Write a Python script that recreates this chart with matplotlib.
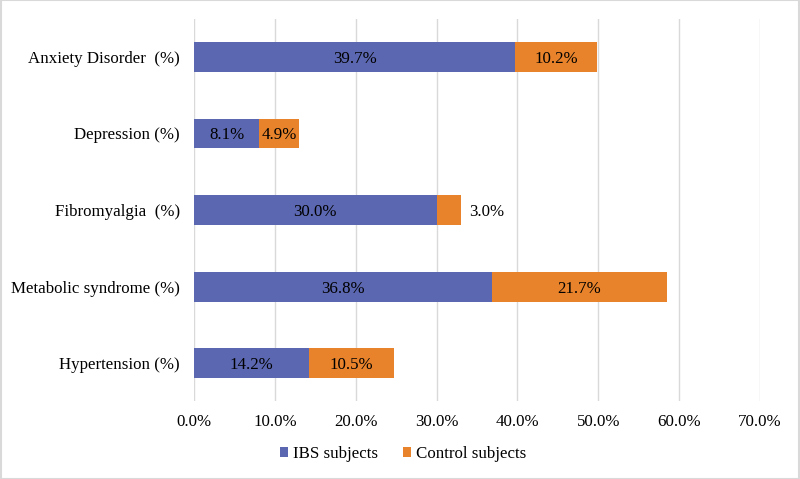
import matplotlib.pyplot as plt
from matplotlib.patches import Rectangle

plt.rcParams['font.family'] = 'serif'
plt.rcParams['font.serif'] = ['Liberation Serif', 'DejaVu Serif']

categories = ['Anxiety Disorder  (%)', 'Depression (%)', 'Fibromyalgia  (%)',
              'Metabolic syndrome (%)', 'Hypertension (%)']
ibs = [39.7, 8.1, 30.0, 36.8, 14.2]
control = [10.2, 4.9, 3.0, 21.7, 10.5]

blue = '#5b67b0'
orange = '#e8832b'

fig = plt.figure(figsize=(8, 4.79), dpi=100)
ax = fig.add_axes([0.2425, 0.162, 0.7075, 0.799])
fig.add_artist(Rectangle((0.001, 0.001), 0.998, 0.998, transform=fig.transFigure,
                         fill=False, edgecolor='#d9d9d9', linewidth=1.5))

y = list(range(len(categories)))
b1 = ax.barh(y, ibs, height=0.39, color=blue, label='IBS subjects', zorder=3)
b2 = ax.barh(y, control, left=ibs, height=0.39, color=orange, label='Control subjects', zorder=3)

fs = 12.2
for i in y:
    ax.text(ibs[i] / 2, i, f'{ibs[i]:.1f}%', ha='center', va='center_baseline',
            fontsize=fs, zorder=4)
    if control[i] < 4:
        ax.text(ibs[i] + control[i] + 1.0, i, f'{control[i]:.1f}%', ha='left',
                va='center_baseline', fontsize=fs, zorder=4)
    else:
        ax.text(ibs[i] + control[i] / 2, i, f'{control[i]:.1f}%', ha='center',
                va='center_baseline', fontsize=fs, zorder=4)

ax.set_ylim(4.5, -0.5)
ax.set_xlim(0, 70)
ax.set_yticks(y)
ax.set_yticklabels(categories, fontsize=fs)
ax.set_xticks(range(0, 71, 10))
ax.set_xticklabels([f'{v:.1f}%' for v in range(0, 71, 10)], fontsize=fs)
ax.tick_params(axis='x', length=0, pad=9)
ax.tick_params(axis='y', length=0, pad=10)
ax.grid(axis='x', color='#d9d9d9', linewidth=1, zorder=0)
for s in ax.spines.values():
    s.set_visible(False)

fig.legend(handles=[b1, b2], loc='center', bbox_to_anchor=(0.504, 0.052), ncol=2,
           frameon=False, fontsize=fs,
           handlelength=0.47, handleheight=0.47, handletextpad=0.3, columnspacing=1.5)

fig.savefig('out.png', dpi=100)
